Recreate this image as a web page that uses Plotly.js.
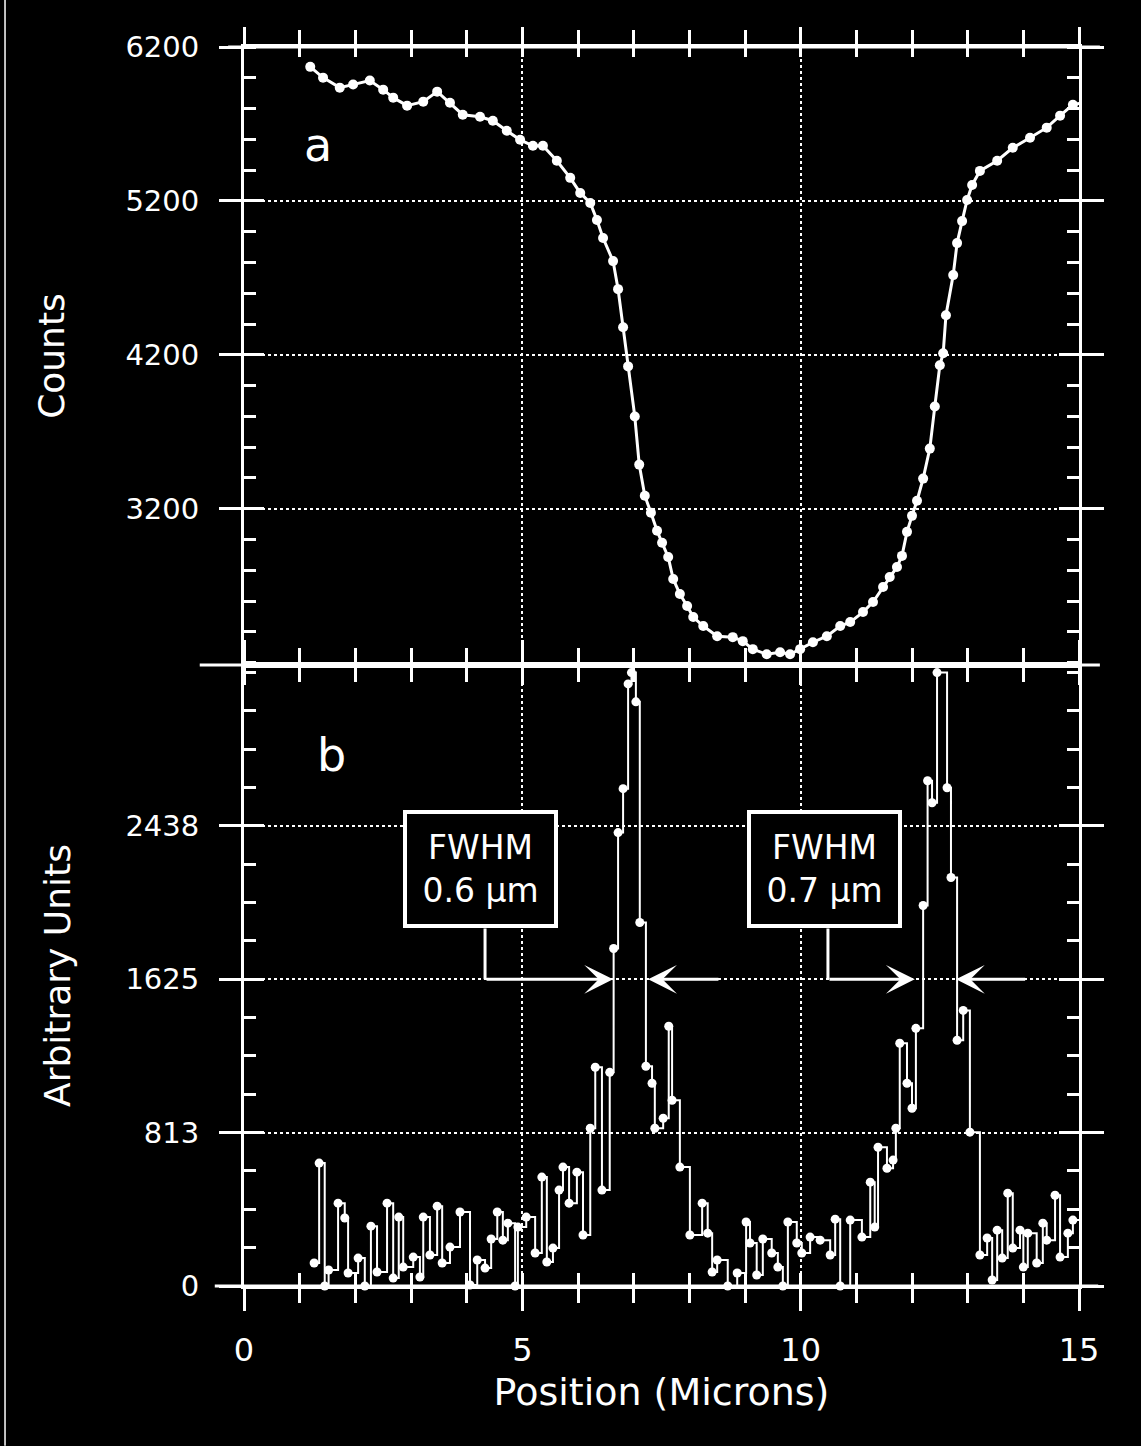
<!DOCTYPE html>
<html>
<head>
<meta charset="utf-8">
<script src="https://cdn.plot.ly/plotly-3.0.1.min.js"></script>
<style>
  html, body { margin: 0; padding: 0; background: #000; }
  #chart { width: 1141px; height: 1446px; }
</style>
</head>
<body>
<div id="chart"></div>
<script>
// ---- Panel (a): counts profile ----
const topX = [1.19,1.42,1.72,1.96,2.26,2.50,2.68,2.93,3.22,3.47,3.70,3.93,4.24,4.47,4.72,4.96,5.19,5.37,5.62,5.86,6.04,6.22,6.34,6.45,6.63,6.72,6.81,6.90,7.02,7.10,7.20,7.31,7.42,7.51,7.62,7.71,7.83,7.96,8.07,8.25,8.50,8.78,8.96,9.14,9.39,9.63,9.81,9.99,10.22,10.47,10.71,10.89,11.12,11.30,11.48,11.60,11.73,11.82,11.91,12.00,12.09,12.20,12.32,12.41,12.50,12.56,12.61,12.74,12.81,12.90,12.99,13.08,13.22,13.53,13.81,14.12,14.42,14.66,14.89,15.07];
const topCounts = [6071,6001,5936,5956,5982,5923,5871,5819,5845,5910,5838,5760,5747,5721,5656,5597,5558,5558,5461,5350,5252,5187,5076,4959,4809,4627,4379,4125,3800,3487,3285,3174,3057,2979,2887,2744,2646,2568,2497,2438,2372,2366,2340,2288,2255,2268,2255,2288,2333,2372,2438,2464,2529,2594,2692,2757,2822,2894,3050,3154,3252,3396,3591,3865,4132,4210,4457,4718,4926,5069,5206,5304,5395,5461,5545,5610,5676,5754,5825,5838];

// ---- Panel (b): derivative signal (arbitrary units) ----
const botX = [1.26,1.35,1.45,1.52,1.69,1.81,1.87,2.05,2.17,2.28,2.39,2.57,2.68,2.78,2.86,3.04,3.16,3.22,3.34,3.47,3.56,3.70,3.88,4.06,4.19,4.33,4.44,4.55,4.65,4.74,4.87,4.92,5.07,5.23,5.35,5.44,5.55,5.66,5.73,5.84,5.98,6.09,6.22,6.31,6.43,6.57,6.64,6.72,6.81,6.90,6.96,7.04,7.11,7.22,7.33,7.38,7.53,7.63,7.69,7.83,8.01,8.23,8.33,8.41,8.50,8.69,8.86,9.02,9.09,9.21,9.32,9.48,9.59,9.68,9.77,9.93,10.02,10.17,10.35,10.53,10.62,10.71,10.89,11.10,11.25,11.33,11.39,11.55,11.66,11.71,11.78,11.91,12.00,12.07,12.20,12.28,12.36,12.45,12.63,12.70,12.81,12.92,13.04,13.22,13.35,13.44,13.53,13.62,13.72,13.81,13.94,14.00,14.08,14.24,14.35,14.42,14.57,14.66,14.80,14.89,15.05];
const botVals = [122,651,0,85,439,360,69,148,0,317,74,439,42,365,100,153,48,365,164,423,122,206,392,5,138,95,249,392,243,333,0,312,365,175,577,127,201,508,630,439,603,270,836,1159,508,1132,1788,2402,2635,3190,3250,3095,1926,1164,1074,836,889,1376,984,630,270,439,280,74,138,0,69,339,228,58,249,175,100,0,339,228,175,259,243,164,354,0,349,259,550,312,735,624,667,836,1286,1074,942,1365,2016,2677,2560,3250,2640,2164,1302,1460,815,164,254,32,296,148,492,201,296,100,280,122,333,243,481,153,280,349,217];

// ---- Axis ticks ----
const xTickVals = [0,5,10,15];
const xTickText = ['0','5','10','15'];
const topTickVals = [3200,4200,5200,6200];
const topTickText = ['3200','4200','5200','6200'];
const botTickVals = [0,812.5,1625,2437.5];
const botTickText = ['0','813','1625','2438'];

// ---- FWHM annotations ----
const fwhmLabels = ['FWHM<br>0.6 µm','FWHM<br>0.7 µm'];
const fwhmBoxX = [4.25, 10.43];
const fwhmLeadX = [4.33, 10.49];
const fwhmLeftTip = [6.63, 12.05];
const fwhmRightTip = [7.26, 12.79];
const fwhmRightTail = [8.55, 14.06];
const fwhmLevel = 1625;
const fwhmBoxY = 2209;
const fwhmBoxBottom = 1894;

const W = '#ffffff';
const tickFont = {family:'DejaVu Sans', size:29, color:W};
const xTickFont = {family:'DejaVu Sans', size:32, color:W};
const titleFont = {family:'DejaVu Sans', size:36, color:W};

const xRange = [0, 15];
const topRange = [2185, 6200];
const botRange = [0, 3290];
const split = 0.5012;

const traces = [
  {type:'scatter', mode:'lines+markers', x:topX, y:topCounts, xaxis:'x2', yaxis:'y2',
   line:{color:W, width:3}, marker:{color:W, size:10, symbol:'circle'}, cliponaxis:false,
   showlegend:false, hoverinfo:'skip'},
  {type:'scatter', mode:'lines+markers', x:botX, y:botVals, xaxis:'x', yaxis:'y',
   line:{color:W, width:2, shape:'hv'}, marker:{color:W, size:9, symbol:'circle'}, cliponaxis:false,
   showlegend:false, hoverinfo:'skip'},
  {type:'scatter', x:[], y:[], xaxis:'x3', yaxis:'y3', showlegend:false, hoverinfo:'skip'},
  {type:'scatter', x:[], y:[], xaxis:'x4', yaxis:'y4', showlegend:false, hoverinfo:'skip'}
];

const gridCommon = {showgrid:true, gridcolor:W, gridwidth:2, griddash:'dot', zeroline:false};
const lineCommon = {showline:true, linecolor:W, linewidth:3, tickcolor:W, tickwidth:3, automargin:false, fixedrange:true};

const layout = {
  width:1141, height:1446,
  paper_bgcolor:'#000', plot_bgcolor:'#000',
  margin:{l:244, r:62, t:47, b:160},
  showlegend:false,
  xaxis: Object.assign({}, lineCommon, gridCommon, {
    domain:[0,1], anchor:'y', range:xRange, mirror:'allticks',
    ticks:'outside', ticklen:22, tickmode:'array', tickvals:xTickVals, ticktext:xTickText,
    minor:{ticks:'outside', tickmode:'linear', tick0:0, dtick:1, ticklen:14, tickwidth:3, tickcolor:W, showgrid:false},
    tickfont:xTickFont, ticklabelstandoff:12,
    title:{text:'Position (Microns)', font:{family:'DejaVu Sans', size:38, color:W}, standoff:10}
  }),
  xaxis3: Object.assign({}, lineCommon, {
    overlaying:'x', anchor:'y', range:xRange, mirror:'allticks', showgrid:false, zeroline:false,
    ticks:'inside', tickmode:'linear', tick0:0, dtick:1, ticklen:13, showticklabels:false
  }),
  yaxis: Object.assign({}, lineCommon, gridCommon, {
    domain:[0,split], anchor:'x', range:botRange, mirror:'allticks',
    ticks:'outside', ticklen:22, tickmode:'array', tickvals:botTickVals, ticktext:botTickText,
    minor:{ticks:'inside', tickmode:'linear', tick0:0, dtick:203.125, ticklen:12, tickwidth:3, tickcolor:W, showgrid:false},
    tickfont:tickFont, ticklabelstandoff:14,
    title:{text:'Arbitrary Units', font:titleFont, standoff:44}
  }),
  yaxis3: Object.assign({}, lineCommon, {
    overlaying:'y', anchor:'x', range:botRange, mirror:'allticks', showgrid:false, zeroline:false,
    ticks:'inside', ticklen:20, tickmode:'array', tickvals:botTickVals, showticklabels:false
  }),
  xaxis2: Object.assign({}, lineCommon, gridCommon, {
    domain:[0,1], anchor:'y2', side:'top', range:xRange, mirror:'allticks',
    ticks:'outside', ticklen:17, tickmode:'array', tickvals:xTickVals, showticklabels:false,
    minor:{ticks:'outside', tickmode:'linear', tick0:0, dtick:1, ticklen:14, tickwidth:3, tickcolor:W, showgrid:false}
  }),
  xaxis4: Object.assign({}, lineCommon, {
    overlaying:'x2', anchor:'y2', side:'top', range:xRange, mirror:'allticks', showgrid:false, zeroline:false,
    ticks:'inside', tickmode:'linear', tick0:0, dtick:1, ticklen:10, showticklabels:false
  }),
  yaxis2: Object.assign({}, lineCommon, gridCommon, {
    domain:[split,1], anchor:'x2', range:topRange, mirror:'allticks',
    ticks:'outside', ticklen:22, tickmode:'array', tickvals:topTickVals, ticktext:topTickText,
    minor:{ticks:'inside', tickmode:'linear', tick0:3200, dtick:200, ticklen:12, tickwidth:3, tickcolor:W, showgrid:false},
    tickfont:tickFont, ticklabelstandoff:14,
    title:{text:'Counts', font:titleFont, standoff:50}
  }),
  yaxis4: Object.assign({}, lineCommon, {
    overlaying:'y2', anchor:'x2', range:topRange, mirror:'allticks', showgrid:false, zeroline:false,
    ticks:'inside', ticklen:20, tickmode:'array', tickvals:topTickVals, showticklabels:false
  }),
  shapes: [],
  annotations: []
};

// extended frame lines & scan edge
[[1,-0.019,1.025],[split,-0.053,1.025],[0,-0.035,1.023]].forEach(function(s){
  layout.shapes.push({type:'line', xref:'paper', yref:'paper', x0:s[1], x1:s[2], y0:s[0], y1:s[0], line:{color:W, width:3}});
});
layout.shapes.push({type:'line', xref:'paper', yref:'paper', x0:-0.2862, x1:-0.2862, y0:-0.129, y1:1.038, line:{color:W, width:1.5}});

// panel letters
layout.annotations.push({xref:'paper', yref:'paper', x:0.0695, y:0.944, text:'a', showarrow:false,
  font:{family:'DejaVu Sans', size:46, color:W}});
layout.annotations.push({xref:'paper', yref:'paper', x:0.085, y:0.4286, text:'b', showarrow:false,
  font:{family:'DejaVu Sans', size:46, color:W}});

// FWHM boxes and arrows
for (let i = 0; i < 2; i++) {
  layout.shapes.push({type:'line', xref:'x', yref:'y', x0:fwhmLeadX[i], x1:fwhmLeadX[i], y0:fwhmBoxBottom, y1:fwhmLevel, line:{color:W, width:3}});
  layout.annotations.push({xref:'x', yref:'y', x:fwhmBoxX[i], y:fwhmBoxY, text:fwhmLabels[i], showarrow:false,
    font:{family:'DejaVu Sans', size:33, color:W}, bgcolor:'#000', bordercolor:W, borderwidth:4, borderpad:0,
    width:147, height:110, align:'center', valign:'middle'});
  layout.annotations.push({xref:'x', yref:'y', axref:'x', ayref:'y', x:fwhmLeftTip[i], y:fwhmLevel,
    ax:fwhmLeadX[i], ay:fwhmLevel, text:'', showarrow:true, arrowhead:3, arrowsize:1.6, arrowwidth:3, arrowcolor:W});
  layout.annotations.push({xref:'x', yref:'y', axref:'x', ayref:'y', x:fwhmRightTip[i], y:fwhmLevel,
    ax:fwhmRightTail[i], ay:fwhmLevel, text:'', showarrow:true, arrowhead:3, arrowsize:1.6, arrowwidth:3, arrowcolor:W});
}

Plotly.newPlot('chart', traces, layout, {staticPlot:true, displayModeBar:false});
</script>
</body>
</html>
